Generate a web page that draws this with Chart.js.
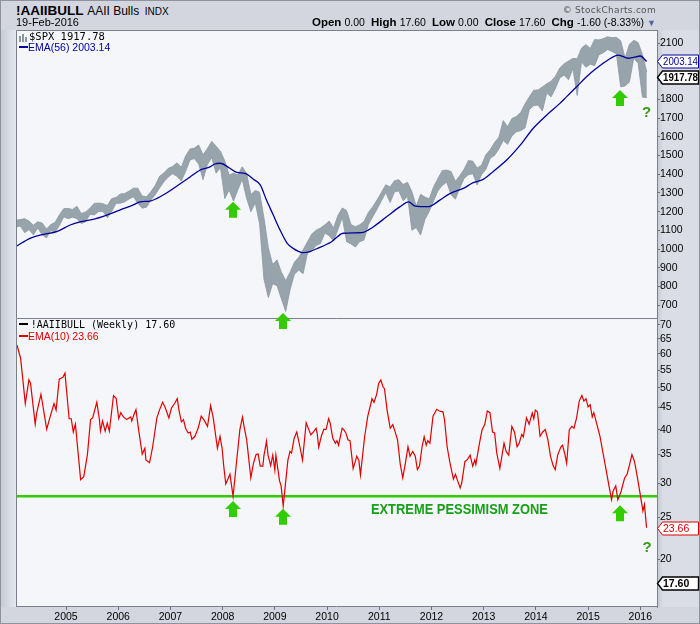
<!DOCTYPE html>
<html lang="en">
<head>
<meta charset="UTF-8">
<title>!AAIIBULL - AAII Bulls INDX</title>
<script src="https://cdn.jsdelivr.net/npm/chart.js"></script>
<style>
  html, body { margin: 0; padding: 0; }
  body { width: 700px; height: 624px; overflow: hidden; }
  #frame {
    position: relative; width: 700px; height: 624px; overflow: hidden;
    background: #d3d6df; box-shadow: inset 0 0 0 1px #8e939d;
    font-family: "Liberation Sans", Arial, sans-serif; color: #000;
  }
  .t { position: absolute; white-space: nowrap; line-height: 1; }
  .leftStrip { position: absolute; left: 1px; top: 30px; width: 15px; height: 577px;
    background: linear-gradient(to right, #c8ccd5, #e4e7ed); }
  .rightStrip { position: absolute; left: 657px; top: 30px; width: 42px; height: 577px;
    background: linear-gradient(to right, #c3c7d0, #dadde5 6px, #dadde5); }
  canvas { position: absolute; left: 0; }
  #c1 { top: 30px; }
  #c2 { top: 318px; }
  .mono { font-family: "DejaVu Sans Mono", monospace; }
  .icon { display: inline-block; vertical-align: middle; }
  .bars i { display: inline-block; width: 2px; background: #8a979f; margin-right: 1px; vertical-align: bottom; }
</style>
</head>
<body>
<div id="frame">
  <div class="leftStrip"></div>
  <div class="rightStrip"></div>

  <canvas id="c2" width="700" height="306"></canvas>
  <canvas id="c1" width="700" height="300"></canvas>

  <!-- header -->
  <div class="t" style="left:16px; top:4px; font-size:13px; line-height:13px;">
    <b style="font-size:13.5px;">!AAIIBULL</b>
    <span style="font-size:12px;">AAII Bulls</span>
    <span style="font-size:10px; margin-left:2px;">INDX</span>
  </div>
  <div class="t" style="left:16px; top:17px; font-size:11px;">19-Feb-2016</div>
  <div class="t" style="right:44px; top:6px; font-size:9px; font-family:'DejaVu Sans', sans-serif; color:#555; letter-spacing:0.3px;">&copy; StockCharts.com</div>
  <div class="t" style="right:44px; top:17px; font-size:11px; line-height:11px;">
    <b style="font-size:11.5px;">Open</b> <span style="font-size:10.5px;">0.00</span>&nbsp;
    <b style="font-size:11.5px;">High</b> <span style="font-size:10.5px;">17.60</span>&nbsp;
    <b style="font-size:11.5px;">Low</b> <span style="font-size:10.5px;">0.00</span>&nbsp;
    <b style="font-size:11.5px;">Close</b> <span style="font-size:10.5px;">17.60</span>&nbsp;
    <b style="font-size:11.5px;">Chg</b> <span style="font-size:10.5px;">-1.60 (-8.33%)</span>
    <span style="font-size:9px; color:#4b6a9b;">&#9660;</span>
  </div>

  <!-- panel legends -->
  <div class="t" style="left:19px; top:31px; font-size:10.5px;">
    <span class="icon bars" style="height:8px; margin-top:-4px;"><i style="height:6px"></i><i style="height:8px"></i><i style="height:5px"></i></span><span class="mono" style="margin-left:1px;">$SPX 1917.78</span>
  </div>
  <div class="t" style="left:19px; top:42px; font-size:10.5px; color:#00009c;">
    <span class="icon" style="width:9px; height:2px; background:#00009c; margin-top:-3px;"></span>EMA(56) 2003.14
  </div>
  <div class="t" style="left:19px; top:320px; font-size:10px;">
    <span class="icon" style="width:9px; height:2px; background:#000; margin-top:-3px;"></span>
    <span class="mono">!AAIIBULL (Weekly) 17.60</span>
  </div>
  <div class="t" style="left:19px; top:331px; font-size:10.5px; color:#dd0000;">
    <span class="icon" style="width:9px; height:2px; background:#dd0000; margin-top:-3px;"></span>EMA(10) 23.66
  </div>
</div>

<script>
  // ---- S&P 500, monthly high / low, Jan 2004 .. Feb 2016 ----
  const spxStartYear = 2004
  const spxHigh = [
    1155, 1158, 1163, 1150, 1128, 1146, 1140, 1108, 1131, 1143, 1184, 1217,
    1217, 1212, 1229, 1191, 1199, 1219, 1245, 1246, 1243, 1233, 1270, 1276,
    1295, 1297, 1310, 1326, 1326, 1284, 1280, 1307, 1340, 1389, 1407, 1432,
    1441, 1461, 1438, 1498, 1535, 1540, 1556, 1504, 1538, 1576, 1550, 1523,
    1471, 1396, 1406, 1397, 1440, 1404, 1292, 1313, 1304, 1167, 1008, 918,
    943, 877, 832, 877, 930, 956, 997, 1039, 1081, 1101, 1113, 1130,
    1150, 1113, 1180, 1220, 1206, 1131, 1120, 1130, 1148, 1196, 1227, 1263,
    1303, 1344, 1332, 1366, 1371, 1345, 1357, 1307, 1230, 1293, 1278, 1269,
    1334, 1378, 1420, 1422, 1415, 1363, 1392, 1427, 1474, 1470, 1434, 1448,
    1504, 1531, 1570, 1598, 1687, 1654, 1698, 1709, 1730, 1776, 1814, 1849,
    1851, 1867, 1884, 1897, 1924, 1968, 1991, 2005, 2019, 2018, 2075, 2093,
    2072, 2120, 2118, 2125, 2135, 2130, 2132, 2113, 2021, 2094, 2116, 2104,
    2039, 1947
  ]
  const spxLow = [
    1118, 1124, 1088, 1105, 1076, 1113, 1078, 1060, 1099, 1090, 1127, 1173,
    1163, 1171, 1163, 1137, 1146, 1185, 1183, 1201, 1201, 1168, 1201, 1245,
    1245, 1253, 1268, 1280, 1245, 1219, 1224, 1262, 1290, 1327, 1360, 1385,
    1403, 1389, 1364, 1416, 1476, 1484, 1454, 1371, 1453, 1489, 1406, 1436,
    1270, 1316, 1257, 1317, 1373, 1272, 1200, 1248, 1134, 840, 741, 815,
    805, 735, 667, 783, 866, 888, 869, 978, 992, 1020, 1030, 1086,
    1071, 1044, 1105, 1170, 1040, 1028, 1011, 1040, 1049, 1131, 1173, 1214,
    1258, 1302, 1249, 1306, 1311, 1258, 1282, 1101, 1115, 1075, 1159, 1202,
    1258, 1312, 1341, 1358, 1291, 1267, 1326, 1378, 1397, 1403, 1343, 1398,
    1426, 1485, 1501, 1536, 1581, 1560, 1605, 1627, 1633, 1647, 1746, 1767,
    1770, 1738, 1834, 1814, 1859, 1915, 1930, 1905, 1964, 1821, 2001, 1972,
    1988, 1980, 2039, 2049, 2067, 2056, 2044, 1867, 1872, 1893, 2020, 1993,
    1812, 1810
  ]

  // ---- EMA(56) of $SPX ----
  const emaYears = [
    2004.06, 2004.31, 2004.57, 2004.82,
    2005.08, 2005.27, 2005.52, 2005.78,
    2006.03, 2006.29, 2006.42, 2006.61, 2006.86,
    2007.18, 2007.37, 2007.57, 2007.76, 2007.85, 2007.95,
    2008.14, 2008.27, 2008.43, 2008.59, 2008.72, 2008.84, 2008.97,
    2009.10, 2009.23, 2009.35, 2009.55, 2009.67, 2009.80,
    2010.08, 2010.31, 2010.66, 2010.89,
    2011.14, 2011.40, 2011.56, 2011.69, 2011.94,
    2012.16, 2012.36, 2012.61, 2012.80, 2012.99,
    2013.18, 2013.44, 2013.70, 2013.95,
    2014.21, 2014.46, 2014.59, 2014.78, 2014.97,
    2015.16, 2015.36, 2015.58, 2015.77, 2015.87, 2016.00, 2016.12
  ]
  const emaValues = [
    1017, 1058, 1079, 1093,
    1129, 1146, 1159, 1182,
    1209, 1236, 1253, 1257, 1289,
    1348, 1384, 1423, 1440, 1455, 1459,
    1432, 1410, 1405, 1373, 1343, 1262, 1182,
    1102, 1034, 1004, 981, 987, 1002,
    1038, 1085, 1088, 1120,
    1173, 1227, 1253, 1230, 1227,
    1262, 1298, 1325, 1355, 1373,
    1414, 1476, 1556, 1646,
    1717, 1779, 1815, 1868, 1921,
    1966, 2007, 2037, 2020, 2025, 2032, 2003.14
  ]

  // ---- EMA(10) of AAII bulls (%) ----
  const aaiiYears = [
    2004.06, 2004.13, 2004.22, 2004.29, 2004.32, 2004.41, 2004.44, 2004.52, 2004.55, 2004.63, 2004.69, 2004.77, 2004.81, 2004.87, 2004.94, 2004.98,
    2005.06, 2005.10, 2005.14, 2005.18, 2005.28, 2005.34, 2005.41, 2005.47, 2005.51, 2005.59, 2005.64, 2005.66, 2005.70, 2005.75, 2005.79, 2005.83, 2005.91, 2005.96,
    2006.01, 2006.05, 2006.10, 2006.16, 2006.24, 2006.26, 2006.30, 2006.34, 2006.39, 2006.46, 2006.51, 2006.53, 2006.60, 2006.66, 2006.74, 2006.79, 2006.85, 2006.90, 2006.97,
    2007.02, 2007.08, 2007.13, 2007.17, 2007.21, 2007.25, 2007.29, 2007.34, 2007.38, 2007.41, 2007.47, 2007.53, 2007.59, 2007.64, 2007.71, 2007.77, 2007.82, 2007.90, 2007.95, 2007.99,
    2008.02, 2008.06, 2008.14, 2008.20, 2008.27, 2008.33, 2008.38, 2008.41, 2008.46, 2008.54, 2008.59, 2008.64, 2008.68, 2008.72, 2008.77, 2008.79, 2008.84, 2008.87, 2008.92, 2008.96,
    2009.00, 2009.02, 2009.09, 2009.12, 2009.16, 2009.20, 2009.25, 2009.29, 2009.32, 2009.37, 2009.42, 2009.44, 2009.48, 2009.53, 2009.60, 2009.65, 2009.69, 2009.74, 2009.79, 2009.81, 2009.84, 2009.89, 2009.94, 2009.98,
    2010.03, 2010.06, 2010.11, 2010.16, 2010.19, 2010.22, 2010.29, 2010.32, 2010.36, 2010.40, 2010.44, 2010.50, 2010.54, 2010.57, 2010.61, 2010.64, 2010.72, 2010.78, 2010.84, 2010.86, 2010.90, 2010.95, 2010.99,
    2011.03, 2011.07, 2011.10, 2011.15, 2011.21, 2011.26, 2011.31, 2011.35, 2011.40, 2011.45, 2011.50, 2011.55, 2011.59, 2011.64, 2011.69, 2011.73, 2011.77, 2011.82, 2011.86, 2011.90, 2011.93, 2011.97,
    2012.03, 2012.10, 2012.15, 2012.22, 2012.25, 2012.30, 2012.35, 2012.42, 2012.46, 2012.49, 2012.55, 2012.58, 2012.64, 2012.69, 2012.74, 2012.79, 2012.83, 2012.85, 2012.92, 2012.97,
    2013.02, 2013.07, 2013.12, 2013.17, 2013.21, 2013.25, 2013.31, 2013.39, 2013.43, 2013.48, 2013.54, 2013.59, 2013.64, 2013.68, 2013.73, 2013.76, 2013.82, 2013.87, 2013.93, 2013.96, 2013.99,
    2014.03, 2014.08, 2014.13, 2014.18, 2014.23, 2014.28, 2014.33, 2014.37, 2014.42, 2014.48, 2014.51, 2014.55, 2014.59, 2014.64, 2014.69, 2014.73, 2014.78, 2014.83, 2014.88, 2014.92, 2014.96,
    2015.00, 2015.04, 2015.08, 2015.11, 2015.17, 2015.23, 2015.28, 2015.34, 2015.40, 2015.45, 2015.48, 2015.53, 2015.57, 2015.63, 2015.70, 2015.75, 2015.80, 2015.84, 2015.89, 2015.94, 2015.99,
    2016.05, 2016.08, 2016.12
  ]
  const aaiiEma = [
    62.9, 58.6, 46.0, 52.2, 51.3, 41.2, 43.8, 48.3, 46.0, 40.1, 42.6, 46.0, 44.4, 52.4, 52.9, 54.1,
    42.4, 42.4, 39.5, 41.2, 30.6, 31.1, 35.0, 42.2, 42.6, 46.3, 42.2, 39.7, 41.9, 39.7, 41.4, 39.7, 48.0, 47.3,
    42.4, 43.8, 42.8, 42.2, 42.8, 41.9, 43.3, 44.5, 40.0, 35.1, 36.2, 34.0, 33.5, 36.5, 42.6, 44.4, 46.3, 45.0, 42.6,
    44.9, 46.0, 47.2, 44.0, 41.7, 42.2, 40.3, 39.3, 39.5, 38.0, 38.6, 40.3, 43.0, 42.2, 40.7, 45.5, 42.6, 36.2, 38.6, 36.2,
    33.0, 29.9, 31.5, 28.0, 34.0, 40.0, 42.8, 40.7, 37.9, 30.9, 33.4, 35.0, 35.1, 32.9, 32.9, 34.7, 37.6, 34.9, 33.0, 34.9,
    32.2, 34.9, 30.4, 29.6, 26.6, 29.6, 34.0, 35.6, 35.3, 38.2, 39.5, 38.5, 36.5, 34.0, 41.5, 40.0, 38.9, 39.5, 40.3, 39.3, 36.4, 38.6, 40.1, 40.0,
    42.4, 41.4, 38.2, 37.2, 37.7, 36.8, 40.3, 40.0, 39.3, 37.9, 37.7, 32.5, 33.7, 34.7, 33.9, 31.4, 38.5, 43.0, 46.0, 47.2, 46.3, 48.3, 51.3,
    52.2, 50.3, 49.8, 44.4, 40.3, 41.1, 39.3, 37.9, 33.4, 30.9, 33.4, 36.5, 34.7, 35.6, 34.7, 32.3, 32.9, 36.5, 38.5, 36.8, 37.7, 37.2,
    43.0, 44.6, 44.2, 44.0, 42.2, 36.5, 33.7, 30.7, 31.5, 30.7, 29.3, 30.1, 33.7, 34.1, 34.9, 32.9, 34.0, 33.2, 37.2, 40.0,
    41.1, 44.2, 43.8, 39.5, 39.3, 35.3, 32.5, 37.2, 35.6, 34.9, 40.7, 39.5, 36.5, 37.2, 39.0, 38.5, 42.6, 41.2, 43.7, 42.4, 44.4,
    44.0, 38.6, 39.5, 40.0, 37.9, 34.7, 33.0, 32.3, 35.0, 36.5, 36.8, 35.3, 33.4, 40.0, 40.7, 40.3, 42.6, 46.6, 48.0, 46.6, 47.2,
    45.2, 45.7, 42.8, 43.8, 41.1, 38.5, 35.6, 32.5, 29.6, 27.5, 28.8, 29.6, 27.5, 28.7, 30.9, 31.6, 33.4, 35.0, 33.7, 31.2, 28.7,
    25.9, 26.8, 23.66
  ]

  // last values shown in the axis flags
  const spxLast = 1917.78
  const emaLast = 2003.14
  const aaiiLast = 17.60
  const aaiiEmaLast = 23.66
  const pessimismLevel = 28

  // tick labels
  const spxTicks = [700, 800, 900, 1000, 1100, 1200, 1300, 1400, 1500, 1600, 1700, 1800, 1900, 2000, 2100]
  const aaiiTicks = [20, 25, 30, 35, 40, 45, 50, 55, 60, 65, 70]
  const yearTicks = [2005, 2006, 2007, 2008, 2009, 2010, 2011, 2012, 2013, 2014, 2015, 2016]

  // annotations (in data units)
  const arrowYears = [2008.20, 2009.16, 2015.61]
  const spxArrowTips = [1253, 659, 1850]
  const aaiiArrowTips = [27.3, 26.2, 26.7]
  const questionSpx = [2016.12, 1706]
  const questionAaii = [2016.13, 20.8]
  const zoneLabel = 'EXTREME PESSIMISM ZONE'
  const zoneAt = [2010.84, 25.5]

  const FONT = '"Liberation Sans", Arial, sans-serif'
  const X_MIN = 2004.042
  const X_MAX = 2016.32
  const ARROW_GREEN = '#33cc00'

  Chart.defaults.font.family = FONT
  Chart.defaults.font.size = 10.5
  Chart.defaults.color = '#000'

  const spxYears = spxHigh.map((v, i) => spxStartYear + (i + 0.5) / 12)
  const pts = (xs, ys) => xs.map((x, i) => ({ x: x, y: ys[i] }))

  function fixWidth(w) {
    return function (s) {
      s.width = w
      s.paddingTop = 0; s.paddingBottom = 0; s.paddingLeft = 0; s.paddingRight = 0
    }
  }
  function fixHeight(h) {
    return function (s) {
      s.height = h
      s.paddingTop = 0; s.paddingBottom = 0; s.paddingLeft = 0; s.paddingRight = 0
    }
  }
  function useTicks(list) {
    return function (s) { s.ticks = list.map(v => ({ value: v })) }
  }

  function drawArrow(ctx, x, tipY) {
    x = Math.round(x)
    ctx.beginPath()
    ctx.moveTo(x, tipY)
    ctx.lineTo(x + 8, tipY + 8)
    ctx.lineTo(x + 4, tipY + 8)
    ctx.lineTo(x + 4, tipY + 16)
    ctx.lineTo(x - 4, tipY + 16)
    ctx.lineTo(x - 4, tipY + 8)
    ctx.lineTo(x - 8, tipY + 8)
    ctx.closePath()
    ctx.fill()
  }

  function drawFlag(ctx, scale, value, text, color, bold) {
    const yy = Math.round(scale.getPixelForValue(value)) + 0.5
    const x0 = scale.left + 0.5
    ctx.beginPath()
    ctx.moveTo(x0, yy)
    ctx.lineTo(x0 + 5, yy - 6.5)
    ctx.lineTo(x0 + 41, yy - 6.5)
    ctx.lineTo(x0 + 41, yy + 6.5)
    ctx.lineTo(x0 + 5, yy + 6.5)
    ctx.closePath()
    ctx.fillStyle = '#fff'
    ctx.fill()
    ctx.lineWidth = bold ? 1.4 : 1
    ctx.strokeStyle = color
    ctx.stroke()
    ctx.fillStyle = color
    ctx.font = (bold ? 'bold ' : '') + '10.5px ' + FONT
    ctx.textAlign = 'left'
    ctx.textBaseline = 'middle'
    ctx.fillText(text, x0 + 5.5, yy + 0.5, 35)
  }

  const plotBox = {
    id: 'plotBox',
    beforeDraw(chart) {
      const { ctx, chartArea: a } = chart
      ctx.save()
      ctx.fillStyle = '#f5f6fa'
      ctx.fillRect(a.left, a.top, a.right - a.left, a.bottom - a.top)
      ctx.restore()
    },
    afterDatasetsDraw(chart) {
      const { ctx, chartArea: a } = chart
      ctx.save()
      ctx.strokeStyle = '#7b808a'
      ctx.lineWidth = 1
      ctx.beginPath()
      ctx.moveTo(a.left + 0.5, a.bottom)
      ctx.lineTo(a.left + 0.5, a.top + 0.5)
      ctx.lineTo(a.right, a.top + 0.5)
      if (chart.canvas.id === 'c2') {
        ctx.moveTo(a.left, a.bottom - 0.5)
        ctx.lineTo(a.right, a.bottom - 0.5)
      }
      ctx.stroke()
      ctx.restore()
    }
  }

  const spxMarks = {
    id: 'spxMarks',
    afterDraw(chart) {
      const { ctx } = chart
      const x = chart.scales.x, y = chart.scales.y
      ctx.save()
      ctx.fillStyle = ARROW_GREEN
      arrowYears.forEach((yr, i) => drawArrow(ctx, x.getPixelForValue(yr), y.getPixelForValue(spxArrowTips[i])))
      ctx.fillStyle = '#3a9a18'
      ctx.font = 'bold 15px ' + FONT
      ctx.textAlign = 'center'
      ctx.textBaseline = 'alphabetic'
      ctx.fillText('?', x.getPixelForValue(questionSpx[0]), y.getPixelForValue(questionSpx[1]))
      drawFlag(ctx, y, emaLast, emaLast.toFixed(2), '#00009c', false)
      drawFlag(ctx, y, spxLast, spxLast.toFixed(2), '#000', true)
      ctx.restore()
    }
  }

  const aaiiMarks = {
    id: 'aaiiMarks',
    afterDraw(chart) {
      const { ctx } = chart
      const x = chart.scales.x, y = chart.scales.y
      ctx.save()
      ctx.fillStyle = ARROW_GREEN
      arrowYears.forEach((yr, i) => drawArrow(ctx, x.getPixelForValue(yr), y.getPixelForValue(aaiiArrowTips[i])))
      ctx.fillStyle = '#18a018'
      ctx.font = 'bold 15px ' + FONT
      ctx.textAlign = 'left'
      ctx.textBaseline = 'alphabetic'
      ctx.fillText(zoneLabel, x.getPixelForValue(zoneAt[0]), y.getPixelForValue(zoneAt[1]), 177)
      ctx.fillStyle = '#3a9a18'
      ctx.textAlign = 'center'
      ctx.fillText('?', x.getPixelForValue(questionAaii[0]), y.getPixelForValue(questionAaii[1]))
      drawFlag(ctx, y, aaiiEmaLast, aaiiEmaLast.toFixed(2), '#dd0000', false)
      drawFlag(ctx, y, aaiiLast, aaiiLast.toFixed(2), '#000', true)
      ctx.restore()
    }
  }

  const axisY = {
    position: 'right',
    bounds: 'data',
    grid: { drawOnChartArea: false, tickLength: 3, color: '#6b7079' },
    border: { display: true, color: '#7b808a', dash: [2, 1] },
    ticks: { padding: 0, color: '#000', font: { size: 10.5 }, callback: v => String(v) },
    afterFit: fixWidth(43)
  }

  // ---- upper panel: $SPX with EMA(56) ----
  new Chart(document.getElementById('c1'), {
    type: 'line',
    data: {
      datasets: [
        {
          label: 'EMA(56)',
          data: pts(emaYears, emaValues),
          borderColor: '#00009c',
          borderWidth: 1.3,
          pointRadius: 0,
          cubicInterpolationMode: 'monotone',
          fill: false
        },
        {
          label: '$SPX low',
          data: pts(spxYears, spxLow),
          borderColor: '#8a979f',
          borderWidth: 0.8,
          pointRadius: 0,
          tension: 0,
          fill: false
        },
        {
          label: '$SPX high',
          data: pts(spxYears, spxHigh),
          borderColor: '#8a979f',
          backgroundColor: '#98a4ac',
          borderWidth: 0.8,
          pointRadius: 0,
          tension: 0,
          fill: '-1'
        }
      ]
    },
    options: {
      responsive: false,
      animation: false,
      events: [],
      layout: { padding: { left: 16, right: 0, top: 0, bottom: 12 } },
      plugins: { legend: { display: false }, tooltip: { enabled: false } },
      scales: {
        x: { type: 'linear', min: X_MIN, max: X_MAX, bounds: 'data', display: false },
        y: Object.assign({}, axisY, {
          type: 'linear', min: 632, max: 2171,
          afterBuildTicks: useTicks(spxTicks)
        })
      }
    },
    plugins: [plotBox, spxMarks]
  })

  // ---- lower panel: AAII bulls EMA(10) ----
  new Chart(document.getElementById('c2'), {
    type: 'line',
    data: {
      datasets: [
        {
          label: 'EMA(10)',
          data: pts(aaiiYears, aaiiEma),
          borderColor: '#e00000',
          borderWidth: 1.2,
          pointRadius: 0,
          tension: 0,
          fill: false
        },
        {
          label: 'Extreme pessimism',
          data: [{ x: X_MIN, y: pessimismLevel }, { x: X_MAX, y: pessimismLevel }],
          borderColor: ARROW_GREEN,
          borderWidth: 2.5,
          pointRadius: 0,
          fill: false
        }
      ]
    },
    options: {
      responsive: false,
      animation: false,
      events: [],
      layout: { padding: { left: 16, right: 0, top: 0, bottom: 0 } },
      plugins: { legend: { display: false }, tooltip: { enabled: false } },
      scales: {
        x: {
          type: 'linear', min: X_MIN, max: X_MAX, bounds: 'data',
          position: 'bottom',
          grid: { drawOnChartArea: false, tickLength: 3, color: '#6b7079' },
          border: { display: false },
          ticks: { padding: 1, color: '#000', font: { size: 10.5 }, maxRotation: 0, callback: v => String(v) },
          afterBuildTicks: useTicks(yearTicks),
          afterFit: fixHeight(17)
        },
        y: Object.assign({}, axisY, {
          type: 'logarithmic', min: 15.49, max: 72.67,
          afterBuildTicks: useTicks(aaiiTicks)
        })
      }
    },
    plugins: [plotBox, aaiiMarks]
  })
</script>
</body>
</html>
